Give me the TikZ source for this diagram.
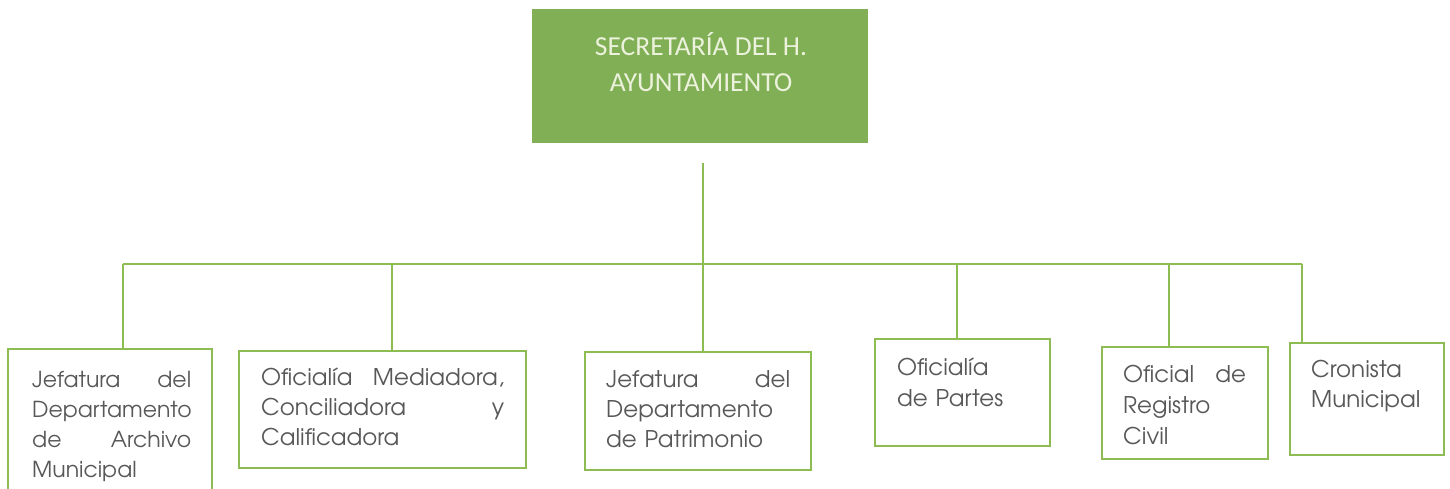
\documentclass[tikz,border=0pt]{standalone}
\usepackage{fontspec}
\setmainfont{Carlito}
\newfontfamily\boxfont{TeX Gyre Adventor}
\definecolor{linegreen}{RGB}{140,188,82}
\definecolor{fillgreen}{RGB}{128,175,86}
\definecolor{toptxt}{RGB}{236,242,220}
\definecolor{bodytxt}{RGB}{88,88,88}
\begin{document}
\begin{tikzpicture}[x=1pt,y=-1pt,
  orgline/.style={draw=linegreen,line width=2pt},
  unitbox/.style={draw=linegreen,line width=2pt,fill=white,inner sep=0pt,rectangle},
  unittext/.style={anchor=base west,inner sep=0pt,align=left,text=bodytxt,
    font=\boxfont\fontsize{23}{30}\selectfont},
  headbox/.style={fill=fillgreen,inner sep=0pt,rectangle,minimum width=336pt,minimum height=134pt},
  headtext/.style={anchor=base,inner sep=0pt,align=center,text=toptxt,
    font=\fontsize{27.5}{36}\selectfont}]
\useasboundingbox (0,0) rectangle (1450,489);
\begin{scope}
\clip (0,0) rectangle (1450,489);
% head
\node[headbox] (head) at (700,76) {};
\node[headtext] (headlbl) at (701,92) {SECRETARÍA DEL H.\\AYUNTAMIENTO};
% boxes
\node[unitbox,minimum width=204pt,minimum height=160pt] (u1) at (110,429) {};
\node[unitbox,minimum width=287pt,minimum height=117pt] (u2) at (382.5,409.5) {};
\node[unitbox,minimum width=226pt,minimum height=118pt] (u3) at (698,411) {};
\node[unitbox,minimum width=175pt,minimum height=107pt] (u4) at (962.5,392.5) {};
\node[unitbox,minimum width=166pt,minimum height=112pt] (u5) at (1185,403) {};
\node[unitbox,minimum width=154pt,minimum height=112pt] (u6) at (1367,399) {};
% connectors
\coordinate (stemtop) at (703,163);
\coordinate (b1) at (123,264);
\coordinate (b2) at (392,264);
\coordinate (b3) at (703,264);
\coordinate (b4) at (957,264);
\coordinate (b5) at (1169,264);
\coordinate (b6) at (1302,264);
\draw[orgline] (stemtop) -- (b3);
\draw[orgline] (b1) -- (b6);
\draw[orgline] (b1) -- (b1 |- u1.north);
\draw[orgline] (b2) -- (b2 |- u2.north);
\draw[orgline] (b3) -- (b3 |- u3.north);
\draw[orgline] (b4) -- (b4 |- u4.north);
\draw[orgline] (b5) -- (b5 |- u5.north);
\draw[orgline] (b6) -- (b6 |- u6.north);
% texts
\node[unittext,text width=159pt,font=\boxfont\fontsize{22}{30}\selectfont] (t1) at (32,387) {Jefatura\hfill del\\Departamento\\de\hfill Archivo\\Municipal};
\node[unittext,text width=243pt] (t2) at (261,385) {Oficialía\hfill Mediadora,\\Conciliadora\hfill y\\Calificadora};
\node[unittext,text width=184pt] (t3) at (606,387) {Jefatura\hfill del\\Departamento\\de Patrimonio};
\node[unittext,text width=140pt,font=\boxfont\fontsize{23}{31}\selectfont] (t4) at (897,375) {Oficialía\\de Partes};
\node[unittext,text width=123pt,font=\boxfont\fontsize{23}{31}\selectfont] (t5) at (1123,382) {Oficial\hfill de\\Registro\\Civil};
\node[unittext,text width=125pt] (t6) at (1311,377) {Cronista\\Municipal};
\end{scope}
\end{tikzpicture}
\end{document}
